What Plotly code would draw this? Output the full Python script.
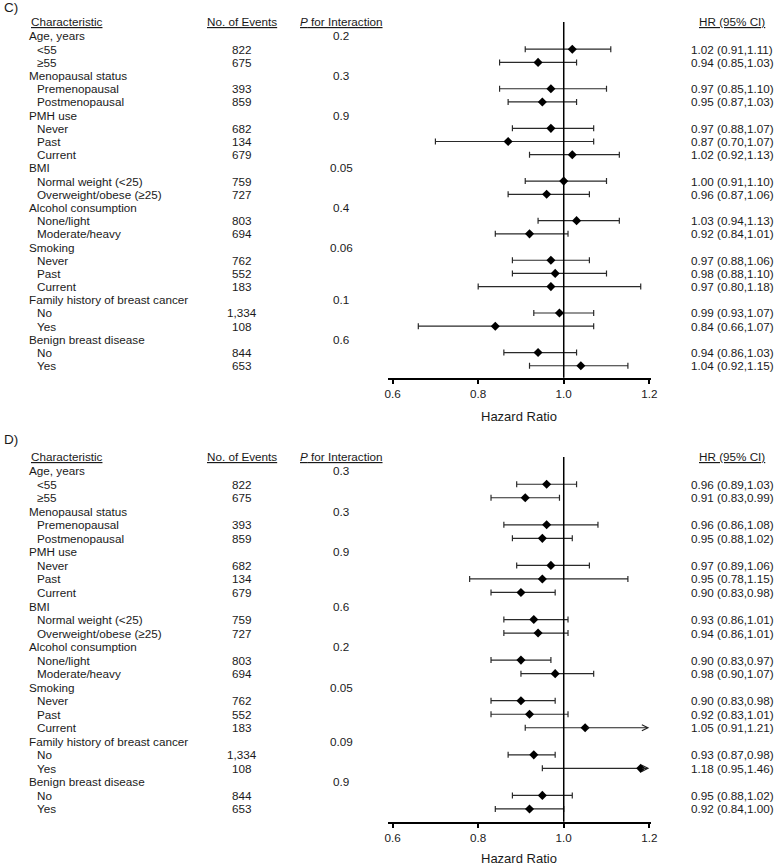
import plotly.graph_objects as go

W, H = 779, 867

# ---------------- data ----------------
group_names = ["Age, years", "Menopausal status", "PMH use", "BMI",
               "Alcohol consumption", "Smoking",
               "Family history of breast cancer", "Benign breast disease"]
subgroup_labels = [["<55", "≥55"],
                   ["Premenopausal", "Postmenopausal"],
                   ["Never", "Past", "Current"],
                   ["Normal weight (<25)", "Overweight/obese (≥25)"],
                   ["None/light", "Moderate/heavy"],
                   ["Never", "Past", "Current"],
                   ["No", "Yes"],
                   ["No", "Yes"]]
events = ["822", "675", "393", "859", "682", "134", "679", "759", "727",
          "803", "694", "762", "552", "183", "1,334", "108", "844", "653"]

p_c = ["0.2", "0.3", "0.9", "0.05", "0.4", "0.06", "0.1", "0.6"]
hr_c = [1.02, 0.94, 0.97, 0.95, 0.97, 0.87, 1.02, 1.00, 0.96,
        1.03, 0.92, 0.97, 0.98, 0.97, 0.99, 0.84, 0.94, 1.04]
lo_c = [0.91, 0.85, 0.85, 0.87, 0.88, 0.70, 0.92, 0.91, 0.87,
        0.94, 0.84, 0.88, 0.88, 0.80, 0.93, 0.66, 0.86, 0.92]
hi_c = [1.11, 1.03, 1.10, 1.03, 1.07, 1.07, 1.13, 1.10, 1.06,
        1.13, 1.01, 1.06, 1.10, 1.18, 1.07, 1.07, 1.03, 1.15]

p_d = ["0.3", "0.3", "0.9", "0.6", "0.2", "0.05", "0.09", "0.9"]
hr_d = [0.96, 0.91, 0.96, 0.95, 0.97, 0.95, 0.90, 0.93, 0.94,
        0.90, 0.98, 0.90, 0.92, 1.05, 0.93, 1.18, 0.95, 0.92]
lo_d = [0.89, 0.83, 0.86, 0.88, 0.89, 0.78, 0.83, 0.86, 0.86,
        0.83, 0.90, 0.83, 0.83, 0.91, 0.87, 0.95, 0.88, 0.84]
hi_d = [1.03, 0.99, 1.08, 1.02, 1.06, 1.15, 0.98, 1.01, 1.01,
        0.97, 1.07, 0.98, 1.01, 1.21, 0.98, 1.46, 1.02, 1.00]

x_ticks = [0.6, 0.8, 1.0, 1.2]
x_range = [0.588, 1.205]
arrow_clip = 1.2

# ---------------- layout helpers ----------------
FONT = "Liberation Sans, Arial, sans-serif"
TXT = "#1a1a1a"
FS = 11.7


def px_x(p):
    return p / W


def px_y(p):
    return 1 - p / H


panels = [
    dict(label="C)", label_y=7, xa="x", ya="y", xname="xaxis", yname="yaxis",
         top=22, bottom=377.7, row1=36, step=13.19, header=21, title_y=416,
         p=p_c, hr=hr_c, lo=lo_c, hi=hi_c),
    dict(label="D)", label_y=440, xa="x2", ya="y2", xname="xaxis2", yname="yaxis2",
         top=457, bottom=821.7, row1=470.7, step=13.53, header=456.5, title_y=858,
         p=p_d, hr=hr_d, lo=lo_d, hi=hi_d),
]

X_LEFT, X_RIGHT = 389, 656
X_GROUP, X_SUB, X_HEAD = 24.5, 32.5, 26
X_EVENTS, X_P, X_HR = 242, 342, 738

fig = go.Figure()
annotations = []
shapes = []
layout_axes = {}

for pn in panels:
    step, row1 = pn["step"], pn["row1"]
    r_top = 1 - (row1 - pn["top"]) / step
    r_bot = 1 + (pn["bottom"] - row1) / step
    ya = pn["ya"]
    tfont = dict(size=FS, color=TXT, family=FONT)

    # rows
    r = 1
    k = 0
    sub_rows = []
    for g, gname in enumerate(group_names):
        annotations.append(dict(x=px_x(X_GROUP), xref="paper", y=r, yref=ya,
                                text=gname, showarrow=False, xanchor="left",
                                yanchor="middle", font=tfont))
        annotations.append(dict(x=px_x(X_P), xref="paper", y=r, yref=ya,
                                text=pn["p"][g], showarrow=False, xanchor="center",
                                yanchor="middle", font=tfont))
        r += 1
        for lab in subgroup_labels[g]:
            annotations.append(dict(x=px_x(X_SUB), xref="paper", y=r, yref=ya,
                                    text=lab, showarrow=False, xanchor="left",
                                    yanchor="middle", font=tfont))
            annotations.append(dict(x=px_x(X_EVENTS), xref="paper", y=r, yref=ya,
                                    text=events[k], showarrow=False, xanchor="center",
                                    yanchor="middle", font=tfont))
            hrt = f"{pn['hr'][k]:.2f} ({pn['lo'][k]:.2f},{pn['hi'][k]:.2f})"
            annotations.append(dict(x=px_x(X_HR), xref="paper", y=r, yref=ya,
                                    text=hrt, showarrow=False, xanchor="center",
                                    yanchor="middle", font=tfont))
            sub_rows.append(r)
            r += 1
            k += 1

    hr, lo, hi = pn["hr"], pn["lo"], pn["hi"]
    plus = []
    minus = []
    for i in range(len(hr)):
        minus.append(hr[i] - lo[i])
        if hi[i] > x_range[1]:
            plus.append(0)
            annotations.append(dict(x=arrow_clip, y=sub_rows[i], xref=pn["xa"], yref=ya,
                                    ax=hr[i], ay=sub_rows[i], axref=pn["xa"], ayref=ya,
                                    text="", showarrow=True, arrowhead=5, arrowsize=1.0,
                                    arrowwidth=1.2, arrowcolor="#222"))
        else:
            plus.append(hi[i] - hr[i])

    fig.add_trace(go.Scatter(
        x=hr, y=sub_rows, xaxis=pn["xa"], yaxis=ya, mode="markers",
        marker=dict(symbol="diamond", size=7, color="black"),
        error_x=dict(type="data", symmetric=False, array=plus, arrayminus=minus,
                     color="#2a2a2a", thickness=1.2, width=3),
        showlegend=False, hoverinfo="skip", cliponaxis=False))

    # headers
    hy = px_y(pn["header"])
    annotations.append(dict(x=px_x(X_HEAD), xref="paper", y=hy, yref="paper",
                            text="<u>Characteristic</u>", showarrow=False,
                            xanchor="left", yanchor="middle", font=tfont))
    annotations.append(dict(x=px_x(X_EVENTS), xref="paper", y=hy, yref="paper",
                            text="<u>No. of Events</u>", showarrow=False,
                            xanchor="center", yanchor="middle", font=tfont))
    annotations.append(dict(x=px_x(X_P), xref="paper", y=hy, yref="paper",
                            text="<u><i>P</i> for Interaction</u>", showarrow=False,
                            xanchor="center", yanchor="middle", font=tfont))
    annotations.append(dict(x=px_x(X_HR), xref="paper", y=hy, yref="paper",
                            text="<u>HR (95% CI)</u>", showarrow=False,
                            xanchor="center", yanchor="middle", font=tfont))
    # panel label
    annotations.append(dict(x=0, xref="paper", y=px_y(pn["label_y"]), yref="paper",
                            text=pn["label"], showarrow=False, xanchor="left",
                            yanchor="middle", borderpad=0,
                            font=dict(size=13.5, color=TXT, family=FONT)))
    # axis title
    annotations.append(dict(x=px_x((X_LEFT + X_RIGHT) / 2), xref="paper",
                            y=px_y(pn["title_y"]), yref="paper",
                            text="Hazard Ratio", showarrow=False, xanchor="center",
                            yanchor="middle", font=dict(size=13, color=TXT, family=FONT)))
    # reference line at HR = 1
    shapes.append(dict(type="line", xref=pn["xa"], yref=f"{ya} domain",
                       x0=1.0, x1=1.0, y0=0, y1=1,
                       line=dict(color="black", width=1.5)))

    layout_axes[pn["xname"]] = dict(
        domain=[px_x(X_LEFT), px_x(X_RIGHT)], range=x_range,
        anchor=ya, showgrid=False, zeroline=False, showline=True,
        linecolor="black", linewidth=1.5, ticks="outside", ticklen=5,
        tickwidth=1.5, tickcolor="black", tickvals=x_ticks, tickformat=".1f",
        tickfont=dict(size=11.7, color=TXT, family=FONT), fixedrange=True)
    layout_axes[pn["yname"]] = dict(
        domain=[px_y(pn["bottom"]), px_y(pn["top"])], range=[r_bot, r_top],
        anchor=pn["xa"], visible=False, showgrid=False, zeroline=False,
        fixedrange=True)

fig.update_layout(
    width=W, height=H, margin=dict(l=0, r=0, t=0, b=0),
    paper_bgcolor="white", plot_bgcolor="white",
    annotations=annotations, shapes=shapes, showlegend=False,
    **layout_axes)

fig.write_html("out.html", config={"displayModeBar": False},
               post_script="document.body.style.margin='0';document.body.style.overflow='hidden';")
